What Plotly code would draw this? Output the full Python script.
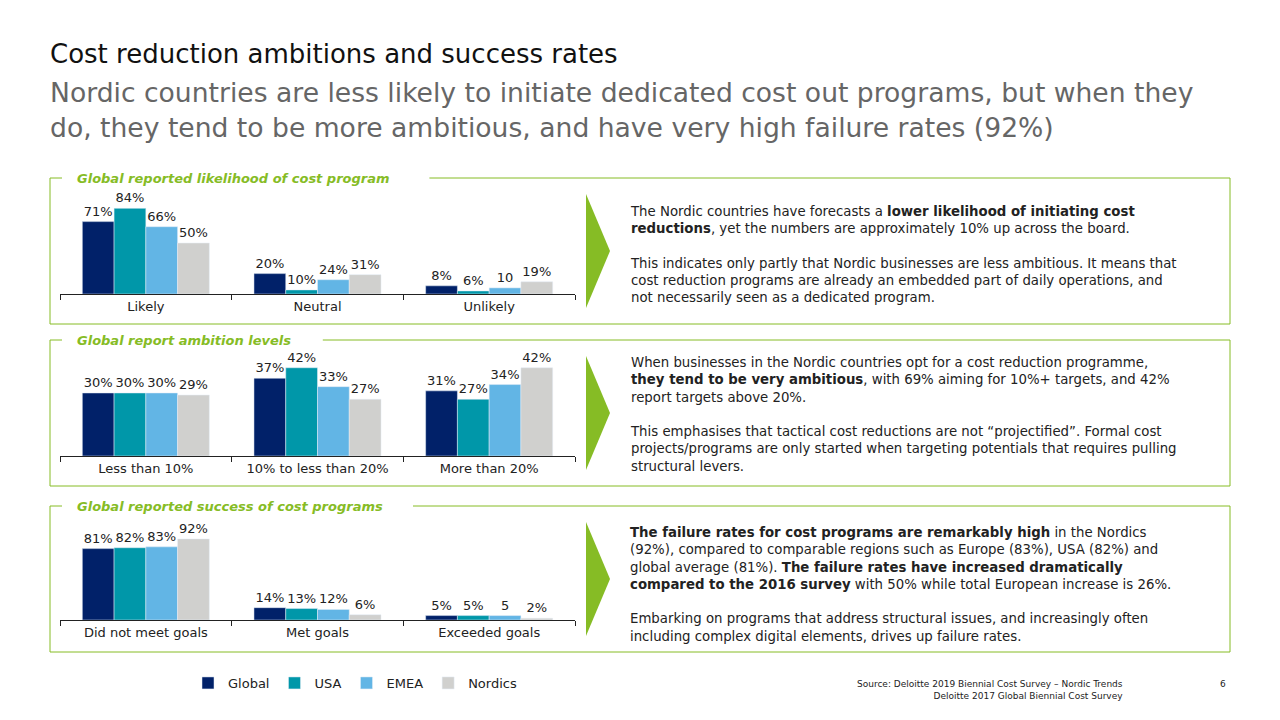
import plotly.graph_objects as go

series = ["Global", "USA", "EMEA", "Nordics"]
colors = ["#012169", "#0097A9", "#62B5E5", "#D0D0CE"]

cats_likelihood = ["Likely", "Neutral", "Unlikely"]
likelihood = {
    "Global": [71, 20, 8],
    "USA": [84, 4, 3],
    "EMEA": [66, 14, 6],
    "Nordics": [50, 19, 12],
}
likelihood_text = {
    "Global": ["71%", "20%", "8%"],
    "USA": ["84%", "10%", "6%"],
    "EMEA": ["66%", "24%", "10"],
    "Nordics": ["50%", "31%", "19%"],
}

cats_ambition = ["Less than 10%", "10% to less than 20%", "More than 20%"]
ambition = {
    "Global": [30, 37, 31],
    "USA": [30, 42, 27],
    "EMEA": [30, 33, 34],
    "Nordics": [29, 27, 42],
}
ambition_text = {
    "Global": ["30%", "37%", "31%"],
    "USA": ["30%", "42%", "27%"],
    "EMEA": ["30%", "33%", "34%"],
    "Nordics": ["29%", "27%", "42%"],
}

cats_success = ["Did not meet goals", "Met goals", "Exceeded goals"]
success = {
    "Global": [81, 14, 5],
    "USA": [82, 13, 5],
    "EMEA": [83, 12, 5],
    "Nordics": [92, 6, 2],
}
success_text = {
    "Global": ["81%", "14%", "5%"],
    "USA": ["82%", "13%", "5%"],
    "EMEA": ["83%", "12%", "5"],
    "Nordics": ["92%", "6%", "2%"],
}

W, H = 1280, 720
OFF = 8  # page body margin
GREEN = "#86BC25"
FONT = "DejaVu Sans"


def py(p):
    return 1 - (p - OFF) / H


def px(p):
    return (p - OFF) / W


fig = go.Figure()

panels = [
    (cats_likelihood, likelihood, likelihood_text, 294, 102, "Global reported likelihood of cost program", 178, 324),
    (cats_ambition, ambition, ambition_text, 456, 49.5, "Global report ambition levels", 340, 486),
    (cats_success, success, success_text, 620, 118, "Global reported success of cost programs", 506, 652),
]

shapes = []
annotations = []
for i, (cats, vals, texts, base, rmax, title, top, bot) in enumerate(panels):
    n = i + 1
    xa = "x" if n == 1 else f"x{n}"
    ya = "y" if n == 1 else f"y{n}"
    for s, c in zip(series, colors):
        fig.add_trace(go.Bar(
            x=cats, y=vals[s], text=texts[s], name=s, marker_color=c,
            textposition="outside", cliponaxis=False,
            textfont=dict(size=13, color="#222", family=FONT),
            xaxis=xa, yaxis=ya, showlegend=(n == 1)))
    key = "" if n == 1 else str(n)
    fig.layout["xaxis" + key] = dict(
        domain=[px(60), px(575)], anchor=ya, showline=True, linecolor="#222",
        ticks="outside", tickson="boundaries", ticklen=5, tickcolor="#222",
        tickfont=dict(size=13, color="#222", family=FONT), fixedrange=True)
    fig.layout["yaxis" + key] = dict(
        domain=[py(base), py(base - 104)], anchor=xa, range=[0, rmax],
        visible=False, showgrid=False)
    # panel box with a gap for the title
    line = dict(color=GREEN, width=1)
    tw = len(title) * 8.2
    for x0, y0, x1, y1 in [(50, top, 62, top), (75 + tw + 10, top, 1230, top),
                           (1230, top, 1230, bot), (50, bot, 1230, bot), (50, top, 50, bot)]:
        shapes.append(dict(type="line", xref="paper", yref="paper",
                           x0=px(x0), y0=py(y0), x1=px(x1), y1=py(y1), line=line))
    annotations.append(dict(text=f"<b><i>{title}</i></b>", x=px(75), y=py(top),
                            xref="paper", yref="paper", xanchor="left", yanchor="middle",
                            showarrow=False, bgcolor="white",
                            font=dict(size=13, color=GREEN, family=FONT)))
    # chevron arrow
    shapes.append(dict(type="path", xref="paper", yref="paper",
                       path=f"M {px(586)} {py(top + 16)} L {px(610)} {py((top + bot) / 2)} "
                            f"L {px(586)} {py(bot - 16)} Z",
                       fillcolor=GREEN, line=dict(width=0)))

paras = [
    ("The Nordic countries have forecasts a <b>lower likelihood of initiating cost<br>"
     "reductions</b>, yet the numbers are approximately 10% up across the board.<br><br>"
     "This indicates only partly that Nordic businesses are less ambitious. It means that<br>"
     "cost reduction programs are already an embedded part of daily operations, and<br>"
     "not necessarily seen as a dedicated program.", 254),
    ("When businesses in the Nordic countries opt for a cost reduction programme,<br>"
     "<b>they tend to be very ambitious</b>, with 69% aiming for 10%+ targets, and 42%<br>"
     "report targets above 20%.<br><br>"
     "This emphasises that tactical cost reductions are not “projectified”. Formal cost<br>"
     "projects/programs are only started when targeting potentials that requires pulling<br>"
     "structural levers.", 414),
    ("<b>The failure rates for cost programs are remarkably high</b> in the Nordics<br>"
     "(92%), compared to comparable regions such as Europe (83%), USA (82%) and<br>"
     "global average (81%). <b>The failure rates have increased dramatically<br>"
     "compared to the 2016 survey</b> with 50% while total European increase is 26%.<br><br>"
     "Embarking on programs that address structural issues, and increasingly often<br>"
     "including complex digital elements, drives up failure rates.", 584),
]
for t, yc in paras:
    annotations.append(dict(text=t, x=px(628), y=py(yc), xref="paper", yref="paper",
                            xanchor="left", yanchor="middle", align="left", showarrow=False,
                            font=dict(size=13.3, color="#222", family=FONT)))

annotations += [
    dict(text="Cost reduction ambitions and success rates", x=px(48), y=py(54),
         font=dict(size=26, color="#111", family=FONT)),
    dict(text="Nordic countries are less likely to initiate dedicated cost out programs, but when they<br>"
              "do, they tend to be more ambitious, and have very high failure rates (92%)",
         x=px(48), y=py(110), font=dict(size=26.6, color="#666", family=FONT)),
    dict(text="Source: Deloitte 2019 Biennial Cost Survey – Nordic Trends<br>Deloitte 2017 Global Biennial Cost Survey",
         x=px(1125), y=py(690), xanchor="right", align="right",
         font=dict(size=9, color="#222", family=FONT)),
    dict(text="6", x=px(1228), y=py(684), xanchor="right",
         font=dict(size=9, color="#222", family=FONT)),
]
for a in annotations[-4:]:
    a.update(xref="paper", yref="paper", showarrow=False)
    a.setdefault("xanchor", "left")
    a.setdefault("align", "left")
    a["yanchor"] = "middle"

fig.update_layout(
    width=W, height=H, margin=dict(l=0, r=0, t=0, b=0),
    paper_bgcolor="white", plot_bgcolor="white",
    barmode="group", bargap=0.26, bargroupgap=0,
    shapes=shapes, annotations=annotations,
    legend=dict(orientation="h", x=px(188), y=py(683), yanchor="middle",
                font=dict(size=13, color="#222", family=FONT), itemwidth=30),
    font=dict(family=FONT),
)

fig.write_html("out.html")
